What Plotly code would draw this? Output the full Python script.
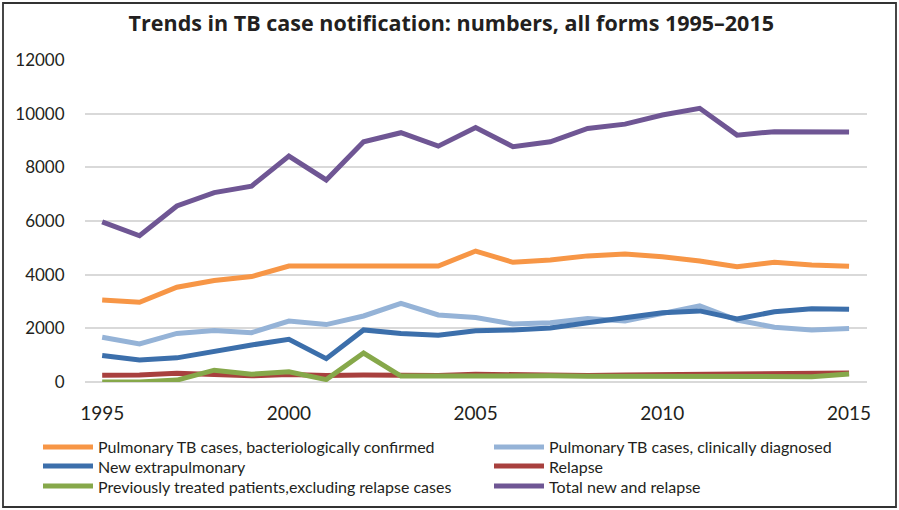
import plotly.graph_objects as go

# Annual TB notifications, 1995-2015
years = list(range(1995, 2016))

pulm_bact_confirmed = [3060, 2970, 3530, 3780, 3930, 4320, 4320, 4310, 4330, 4320,
                       4880, 4460, 4550, 4700, 4770, 4670, 4510, 4300, 4460, 4360, 4310]
pulm_clin_diagnosed = [1670, 1420, 1810, 1920, 1840, 2270, 2140, 2460, 2930, 2500,
                       2400, 2160, 2210, 2370, 2270, 2560, 2840, 2310, 2040, 1940, 1990]
new_extrapulmonary = [990, 820, 900, 1150, 1380, 1590, 870, 1940, 1810, 1740,
                      1910, 1940, 2010, 2210, 2400, 2580, 2650, 2350, 2620, 2730, 2710]
relapse = [250, 260, 330, 280, 230, 280, 240, 260, 250, 240,
           290, 260, 250, 240, 260, 280, 290, 290, 300, 320, 340]
prev_treated_excl_relapse = [0, 0, 70, 440, 290, 380, 90, 1080, 220, 220,
                             260, 230, 230, 210, 210, 190, 180, 200, 200, 200, 300]
total_new_relapse = [5970, 5450, 6560, 7060, 7300, 8420, 7530, 8950, 9290, 8790,
                     9480, 8770, 8950, 9450, 9610, 9950, 10200, 9200, 9330, 9320, 9320]

series = [
    ("Pulmonary TB cases, bacteriologically confirmed", pulm_bact_confirmed, "#F79646"),
    ("Pulmonary TB cases, clinically diagnosed", pulm_clin_diagnosed, "#95B3D7"),
    ("New extrapulmonary", new_extrapulmonary, "#3C6FAB"),
    ("Relapse", relapse, "#A8403E"),
    ("Previously treated patients,excluding relapse cases", prev_treated_excl_relapse, "#86A84A"),
    ("Total new and relapse", total_new_relapse, "#6F5694"),
]

x_ticks = [1995, 2000, 2005, 2010, 2015]
y_ticks = [0, 2000, 4000, 6000, 8000, 10000, 12000]
y_tick_text = [str(v) for v in y_ticks]

FONT = "Lato"
TEXT = "#231F20"

fig = go.Figure()
for name, vals, color in series:
    fig.add_trace(go.Scatter(
        x=years, y=vals, name=name, mode="lines",
        line=dict(color=color, width=5),
    ))

W, H = 899, 510
L, R, T, B = 85, 32, 60, 128
pw, ph = W - L - R, H - T - B


def px_to_paper_x(px):
    return (px - L) / pw


def px_to_paper_y(py):
    return (H - B - py) / ph


fig.update_layout(
    width=W, height=H,
    margin=dict(l=L, r=R, t=T, b=B),
    paper_bgcolor="white", plot_bgcolor="white",
    font=dict(family=FONT, color=TEXT),
    showlegend=False,
    title=dict(
        text="<b>Trends in TB case notification: numbers, all forms 1995\u20132015</b>",
        x=0.502, xanchor="center", y=1 - 23 / H, yanchor="middle",
        font=dict(size=21.5, family="Open Sans", color=TEXT),
    ),
    xaxis=dict(
        range=[1994.54, 2015.48], tickvals=x_ticks, showgrid=False,
        zeroline=False, showline=False,
        ticks="outside", ticklen=14, tickcolor="rgba(0,0,0,0)",
        tickfont=dict(size=19, family=FONT, color=TEXT),
    ),
    yaxis=dict(
        range=[0, 12000], tickvals=y_ticks, ticktext=y_tick_text, showgrid=True,
        gridcolor="#D9D9D9", gridwidth=1.5, zeroline=True,
        zerolinecolor="#D9D9D9", zerolinewidth=1.5, showline=False,
        ticks="outside", ticklen=16, tickcolor="rgba(0,0,0,0)",
        tickfont=dict(size=17, family=FONT, color=TEXT),
    ),
)

# Two-column legend below the plot, filled row by row
col_x = [43, 494]
row_y = [447, 466, 486]
sample_len = 50
for i, (name, _, color) in enumerate(series):
    cx = col_x[i % 2]
    ry = row_y[i // 2]
    fig.add_shape(
        type="line", xref="paper", yref="paper",
        x0=px_to_paper_x(cx), x1=px_to_paper_x(cx + sample_len),
        y0=px_to_paper_y(ry), y1=px_to_paper_y(ry),
        line=dict(color=color, width=5),
    )
    fig.add_annotation(
        xref="paper", yref="paper",
        x=px_to_paper_x(cx + sample_len + 3), y=px_to_paper_y(ry),
        xanchor="left", yanchor="middle", showarrow=False,
        text=name, font=dict(size=16, family=FONT, color=TEXT),
    )

# Outer frame around the whole figure
fig.add_shape(
    type="rect", xref="paper", yref="paper",
    x0=px_to_paper_x(3), x1=px_to_paper_x(896),
    y0=px_to_paper_y(507), y1=px_to_paper_y(3),
    line=dict(color="#333333", width=1.8), layer="above",
)

fig.write_html("out.html")
